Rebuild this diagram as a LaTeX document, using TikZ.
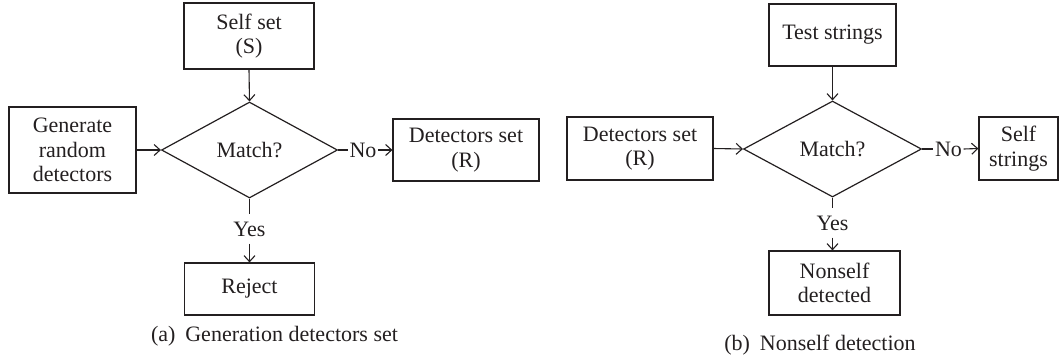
\documentclass[tikz,border=0pt]{standalone}
\usepackage{fontspec}
\setmainfont{Liberation Serif}
\usetikzlibrary{shapes.geometric,arrows.meta}
\definecolor{ink}{HTML}{231F20}
\begin{document}
\begin{tikzpicture}[x=1pt,y=-1pt,
  every node/.style={font=\fontsize{22}{24.5}\selectfont, text=ink},
  box/.style={draw=ink, line width=1.2pt, inner sep=0pt, align=center},
  dec/.style={draw=ink, line width=1.2pt, diamond, inner sep=0pt, minimum height=96pt, shape aspect=1.83},
  lbl/.style={inner xsep=1.5pt, inner ysep=7pt},
  conn/.style={draw=ink, line width=1.1pt},
  arr/.style={conn, -{Straight Barb[length=6pt,width=11pt]}},
]
\path[use as bounding box] (0,0) rectangle (1063,360);

% (a) Generation detectors set
\node[box, minimum width=130pt, minimum height=66pt] (selfS) at (249,36) {Self set\\(S)};
\node[dec, minimum width=176pt] (mA) at (249.5,150) {Match?};
\node[box, minimum width=127pt, minimum height=86pt] (gen) at (72.5,150) {Generate\\random\\detectors};
\node[box, minimum width=146pt, minimum height=62pt] (detA) at (466,150) {Detectors set\\(R)};
\node[box, minimum width=130pt, minimum height=52pt] (rej) at (249.5,289) {Reject};
\node[lbl] (noA) at (363,150) {No};
\node[lbl] (yesA) at (249.5,229) {Yes};
\node (capA) at (274.5,336) {(a)\hspace{0.45em}Generation detectors set};

\draw[arr] (selfS.south) -- (mA.north);
\draw[arr] (gen.east) -- (mA.west);
\draw[conn] (mA.east) -- (noA.west);
\draw[arr] (noA.east) -- (detA.west);
\draw[conn] (mA.south) -- (yesA.north);
\draw[arr] (yesA.south) -- (rej.north);

% (b) Nonself detection
\node[box, minimum width=127pt, minimum height=62pt] (test) at (832.5,35) {Test strings};
\node[dec, minimum width=178pt] (mB) at (832.5,149) {Match?};
\node[box, minimum width=146pt, minimum height=63pt] (detB) at (640,148.5) {Detectors set\\(R)};
\node[box, minimum width=79pt, minimum height=63pt] (selfstr) at (1018.5,148.5) {Self\\strings};
\node[box, minimum width=131pt, minimum height=64pt] (nons) at (834.5,283) {Nonself\\detected};
\node[lbl] (noB) at (948.5,149) {No};
\node[lbl] (yesB) at (832.5,223) {Yes};
\node (capB) at (820,345) {(b)\hspace{0.45em}Nonself detection};

\draw[arr] (test.south) -- (mB.north);
\draw[arr] (detB.east) -- (mB.west);
\draw[conn] (mB.east) -- (noB.west);
\draw[arr] (noB.east) -- (selfstr.west);
\draw[conn] (mB.south) -- (yesB.north);
\draw[arr] (yesB.south) -- (nons.north -| yesB.south);
\end{tikzpicture}
\end{document}
